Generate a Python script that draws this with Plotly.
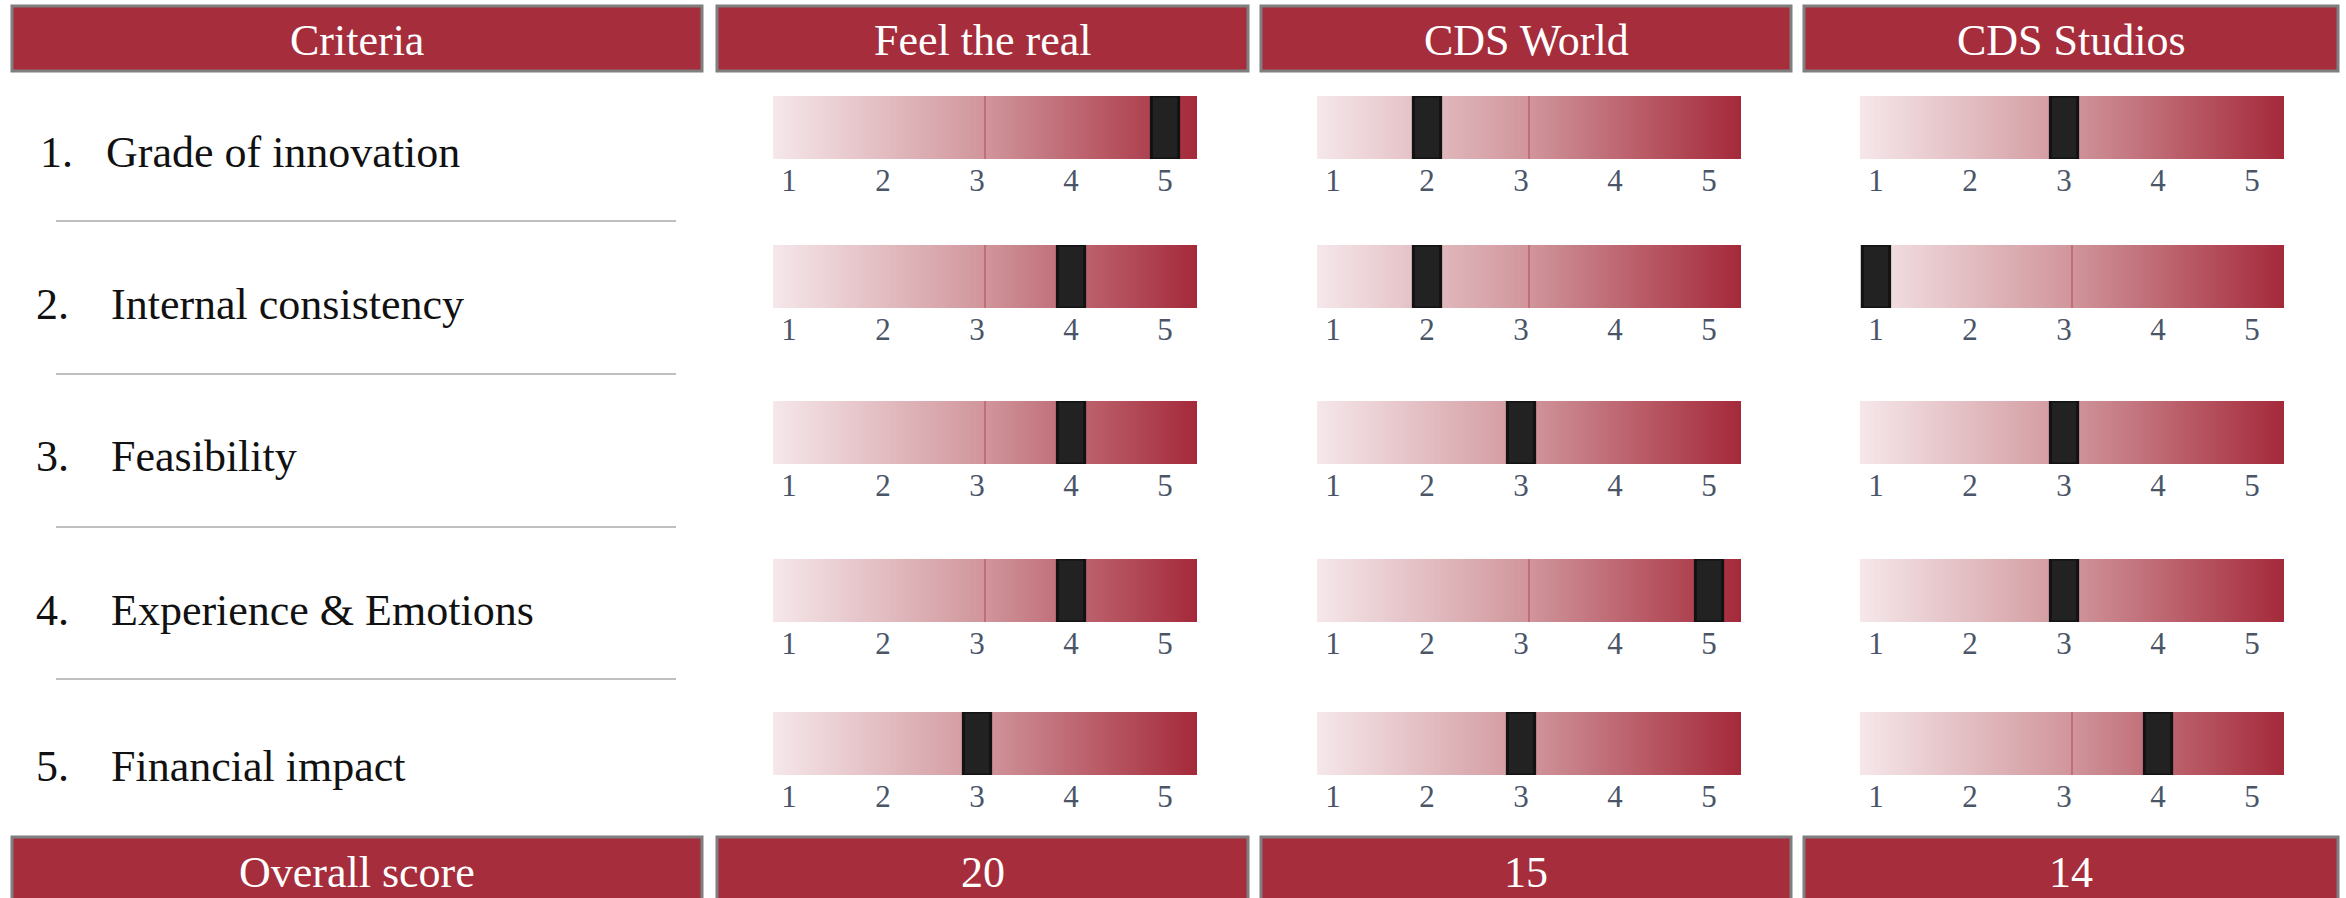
import plotly.graph_objects as go

# ---------------- data ----------------
companies = ["Feel the real", "CDS World", "CDS Studios"]
criteria = ["Grade of innovation", "Internal consistency", "Feasibility",
            "Experience & Emotions", "Financial impact"]
criteria_numbers = ["1.", "2.", "3.", "4.", "5."]
scores_feel_the_real = [5, 4, 4, 4, 3]
scores_cds_world = [2, 2, 3, 5, 3]
scores_cds_studios = [3, 1, 3, 3, 4]
overall_scores = [20, 15, 14]
tick_values = [1, 2, 3, 4, 5]
tick_labels = ["1", "2", "3", "4", "5"]
header_first = "Criteria"
footer_first = "Overall score"

scores = [scores_feel_the_real, scores_cds_world, scores_cds_studios]

# ---------------- layout constants ----------------
W, H = 2346, 898
FONT = "Liberation Serif"
RED = "#a52d3c"
BORDER = "#7f7f7f"
GRAD = [[0.0, "#f5e7ea"], [0.5, "#d0959b"], [1.0, "#a4293a"]]
SEAM = "#c06e78"
AX_MIN, AX_MAX = 0.83, 5.34

box_x = [(12, 702), (717, 1248), (1261, 1791), (1804, 2338)]
head_y = (6, 71)
foot_y = (837, 903)
bar_offset, bar_w, bar_h = 56, 424, 63
row_tops = [96, 245, 401, 559, 712]
label_y = [153, 305, 456, 610, 766]
sep_y = [221, 374, 527, 679]


def px(x):
    return x / W


def py(y):
    return 1 - y / H


fig = go.Figure()
layout_axes = {}
n = 0
for r in range(len(criteria)):
    for c in range(len(companies)):
        n += 1
        xa = "x" if n == 1 else f"x{n}"
        ya = "y" if n == 1 else f"y{n}"
        xl = "xaxis" if n == 1 else f"xaxis{n}"
        yl = "yaxis" if n == 1 else f"yaxis{n}"
        x0 = box_x[c + 1][0] + bar_offset
        fig.add_trace(go.Heatmap(
            z=[[0, 1], [0, 1]], x=[AX_MIN, AX_MAX], y=[0, 1], zmin=0, zmax=1,
            zsmooth="best", colorscale=GRAD, showscale=False, hoverinfo="skip",
            xaxis=xa, yaxis=ya))
        fig.add_trace(go.Bar(
            x=[(AX_MIN + AX_MAX) / 2], y=[1], base=[0], width=[0.022],
            marker=dict(color=SEAM, line=dict(width=0)), hoverinfo="skip",
            showlegend=False, xaxis=xa, yaxis=ya))
        fig.add_trace(go.Bar(
            x=[scores[c][r]], y=[1], base=[0], width=[0.29],
            marker=dict(color="#222222", line=dict(color="#121212", width=3)),
            name=companies[c], showlegend=False, xaxis=xa, yaxis=ya))
        layout_axes[xl] = dict(
            domain=[px(x0), px(x0 + bar_w)], range=[AX_MIN, AX_MAX],
            anchor=ya, tickmode="array", tickvals=tick_values, ticktext=tick_labels,
            showgrid=False, zeroline=False, showline=False, ticks="",
            tickfont=dict(family=FONT, size=31, color="#4a5568"), fixedrange=True)
        layout_axes[yl] = dict(
            domain=[py(row_tops[r] + bar_h), py(row_tops[r])], range=[0, 1],
            anchor=xa, visible=False, fixedrange=True)

shapes = []
annotations = []
head_texts = [header_first] + companies
foot_texts = [footer_first] + [str(v) for v in overall_scores]
for i, (a, b) in enumerate(box_x):
    for (y0, y1), txt in ((head_y, head_texts[i]), (foot_y, foot_texts[i])):
        shapes.append(dict(type="rect", xref="paper", yref="paper",
                           x0=px(a), x1=px(b), y0=py(y1), y1=py(y0),
                           fillcolor=RED, line=dict(color=BORDER, width=3), layer="below"))
        annotations.append(dict(xref="paper", yref="paper", x=px((a + b) / 2),
                                y=py((y0 + y1) / 2 + 2), text=txt, showarrow=False,
                                xanchor="center", yanchor="middle",
                                font=dict(family=FONT, size=44, color="white")))

for sy in sep_y:
    shapes.append(dict(type="line", xref="paper", yref="paper",
                       x0=px(56), x1=px(676), y0=py(sy), y1=py(sy),
                       line=dict(color="#bfbfbf", width=2)))

for r in range(len(criteria)):
    num_x = 38 if r == 0 else 34
    txt_x = 104 if r == 0 else 109
    annotations.append(dict(xref="paper", yref="paper", x=px(num_x), y=py(label_y[r]),
                            text=criteria_numbers[r], showarrow=False,
                            xanchor="left", yanchor="middle",
                            font=dict(family=FONT, size=44, color="#111111")))
    annotations.append(dict(xref="paper", yref="paper", x=px(txt_x), y=py(label_y[r]),
                            text=criteria[r], showarrow=False,
                            xanchor="left", yanchor="middle",
                            font=dict(family=FONT, size=44, color="#111111")))

fig.update_layout(
    width=W, height=H, margin=dict(l=0, r=0, t=0, b=0),
    paper_bgcolor="white", plot_bgcolor="white",
    barmode="overlay", showlegend=False,
    shapes=shapes, annotations=annotations, **layout_axes)

fig.write_html("out.html", config={"displayModeBar": False})
